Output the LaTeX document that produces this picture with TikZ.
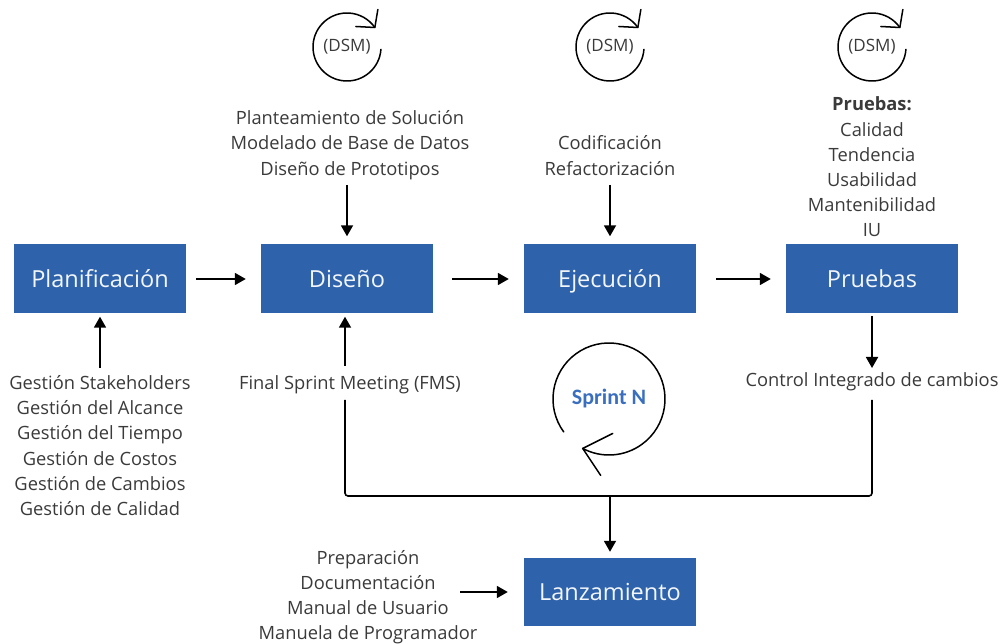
\documentclass[tikz,border=0pt]{standalone}
\usepackage{fontspec}
\setmainfont{Open Sans}
\newfontfamily\calfont{Carlito}
\usetikzlibrary{arrows.meta,positioning}
\definecolor{boxblue}{HTML}{2E63AC}
\definecolor{sprintblue}{HTML}{3A6FC0}
\definecolor{txtgray}{HTML}{3A3A3A}
\tikzset{
  phase/.style={fill=boxblue, minimum width=172pt, minimum height=69pt, inner sep=0pt,
    text height=16.5pt, text depth=0pt,
    text=white!94!boxblue, font=\fontsize{23.5}{28}\selectfont},
  note/.style={align=center, text=txtgray, inner sep=0pt, font=\fontsize{18.3}{25.2}\selectfont},
  flow/.style={line width=1.8pt, -{Triangle[length=11pt,width=12pt]}},
  wire/.style={line width=1.6pt},
  loopline/.style={line width=1.5pt, line cap=round, line join=round},
}
\begin{document}
\begin{tikzpicture}[x=1pt,y=1pt]
\useasboundingbox (0,0) rectangle (1004,643);

% phase boxes
\node[phase] (plan) at (100,364) {Planificación};
\node[phase] (dis)  at (347,364) {Diseño};
\node[phase] (eje)  at (610,364) {Ejecución};
\node[phase] (pru)  at (872,364) {Pruebas};
\node[phase, minimum height=68pt] (lan) at (610,51) {Lanzamiento};

% main flow
\draw[flow, shorten <=10pt, shorten >=15pt] (plan.east) -- (dis.west);
\draw[flow, shorten <=19pt, shorten >=15pt] (dis.east) -- (eje.west);
\draw[flow, shorten <=20pt, shorten >=15pt] (eje.east) -- (pru.west);

% DSM cycles: open circle with a two-stroke arrowhead at its upper right
\foreach \cx/\nm in {347/dsmA, 610/dsmB, 872/dsmC}{
  \node[text=txtgray, font=\fontsize{17}{20}\selectfont] (\nm) at (\cx,596) {(DSM)};
  \draw[loopline]
    ([shift={(-4:34)}]\nm.center) arc[start angle=-4, end angle=-325, radius=34];
  \coordinate (\nm tip) at ([shift={(35:34)}]\nm.center);
  \draw[loopline] ([shift={(3,18)}]\nm tip) -- (\nm tip) -- ([shift={(-19,1)}]\nm tip);
}

% notes above the boxes
\node[note] (disnote) at (350,498) {Planteamiento de Solución\\Modelado de Base de Datos\\Diseño de Prototipos};
\node[note] (ejenote) at (610,487.5) {Codificación\\Refactorización};
\node[note] (prunote) at (872,476) {\textbf{Pruebas:}\\Calidad\\Tendencia\\Usabilidad\\Mantenibilidad\\IU};

\coordinate (disin) at (347,458);
\coordinate (ejein) at (610,458);
\draw[flow, shorten >=8pt] (disin) -- (dis.north);
\draw[flow, shorten >=8pt] (ejein) -- (eje.north);

% notes below the boxes
\node[note] (plannote) at (100,197.5) {Gestión Stakeholders\\Gestión del Alcance\\Gestión del Tiempo\\Gestión de Costos\\Gestión de Cambios\\Gestión de Calidad};
\node[note] (fms) at (350,258) {Final Sprint Meeting (FMS)};
\node[note] (cic) at (872,261) {Control Integrado de cambios};

\coordinate (planin) at (100,275);
\coordinate (fmsup) at (345,277);
\coordinate (prudown) at (872,327);
\coordinate (cictop) at (872,275);
\draw[flow, shorten >=3pt] (planin) -- (plan.south);
\draw[flow, shorten >=3pt] (fmsup) -- (dis.south -| fmsup);
\draw[flow] (prudown) -- (cictop);

% feedback to the release
\coordinate (fmsbot) at (345,243);
\coordinate (cicbot) at (872,243);
\coordinate (join) at (610,147);
\draw[wire, rounded corners=3pt] (fmsbot) |- (join) -| (cicbot);
\draw[flow, shorten >=6pt] (join) -- (lan.north);

% sprint cycle
\node[font=\calfont\bfseries\fontsize{22}{26}\selectfont, text=sprintblue] (sprint) at (609,244) {Sprint N};
\draw[loopline]
  ([shift={(216:56)}]sprint.center) arc[start angle=216, end angle=-118, radius=56];
\coordinate (sprinttip) at ([shift={(242:56)}]sprint.center);
\draw[loopline] ([shift={(30,15)}]sprinttip) -- (sprinttip) -- ([shift={(18,-27)}]sprinttip);

% release inputs
\node[note] (lannote) at (368,46) {Preparación\\Documentación\\Manual de Usuario\\Manuela de Programador};
\coordinate (lanin) at (460,51);
\draw[flow, shorten >=16pt] (lanin) -- (lan.west);
\end{tikzpicture}
\end{document}
